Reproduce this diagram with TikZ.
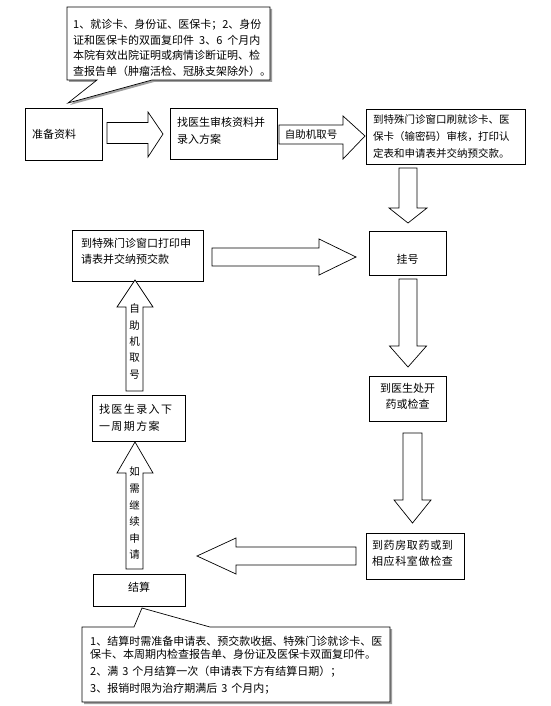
\documentclass[tikz,border=0pt]{standalone}
\usepackage{fontspec}
\newfontfamily\cjk{Noto Sans CJK SC}
\begin{document}
\begin{tikzpicture}[x=1pt,y=-1pt,
  box/.style={draw,line width=0.7pt,fill=white,inner sep=0pt,font=\cjk\fontsize{11}{16.5}\selectfont},
  barrow/.style={draw,line width=0.7pt,fill=white,line join=miter},
  lbl/.style={inner sep=0pt,font=\cjk\fontsize{10.5}{16.3}\selectfont},
  calloutshape/.style={draw,line width=0.7pt,fill=white,line join=miter},
  shadowshape/.style={fill=gray!75,draw=none},
  callouttext/.style={inner sep=0pt,align=left,font=\cjk\fontsize{11}{15.6}\selectfont}]
\useasboundingbox[fill=white] (0,0) rectangle (550,706);

% ---------- callout 1 ----------
\begin{scope}[shift={(2,2)}]
  \fill[shadowshape] (67,7) -- (270,7) -- (270,80) -- (152,80) -- (68,103) -- (97,80) -- (67,80) -- cycle;
\end{scope}
\draw[calloutshape] (67,7) -- (270,7) -- (270,80) -- (152,80) -- (68,103) -- (97,80) -- (67,80) -- cycle;
\node[callouttext,anchor=north west] (c1) at (73,19) {1、就诊卡、身份证、医保卡；2、身份\\证和医保卡的双面复印件\hspace{5pt}3、6\hspace{5pt}个月内\\本院有效出院证明或病情诊断证明、检\\查报告单（肿瘤活检、冠脉支架除外）。};

% ---------- callout 2 ----------
\begin{scope}[shift={(2,2)}]
  \fill[shadowshape] (82,627) -- (134,627) -- (142,608) -- (210,627) -- (390,627) -- (390,702) -- (82,702) -- cycle;
\end{scope}
\draw[calloutshape] (82,627) -- (134,627) -- (142,608) -- (210,627) -- (390,627) -- (390,702) -- (82,702) -- cycle;
\node[callouttext,anchor=north west,font=\cjk\fontsize{11}{16.9}\selectfont] (c2) at (90,636) {1、结算时需准备申请表、预交款收据、特殊门诊就诊卡、医\\[-3.5pt]保卡、本周期内检查报告单、身份证及医保卡双面复印件。\\2、满\hspace{4pt}3\hspace{4pt}个月结算一次（申请表下方有结算日期）；\\3、报销时限为治疗期满后\hspace{4pt}3\hspace{4pt}个月内；};

% ---------- boxes ----------
\node[box,minimum width=77pt,minimum height=52pt,text width=63pt,align=left] (prep) at (63.5,134) {准备资料};
\node[box,minimum width=107pt,minimum height=51pt,text width=93pt,align=left] (doc1) at (223.5,133.5) {找医生审核资料并\\录入方案\rule[-6pt]{0pt}{1pt}};
\node[box,minimum width=159pt,minimum height=55pt,text width=145pt,align=left,font=\cjk\fontsize{10.5}{17}\selectfont] (win1) at (445.5,136.5) {到特殊门诊窗口刷就诊卡、医\\保卡（输密码）审核，打印认\\定表和申请表并交纳预交款。};
\node[box,minimum width=77pt,minimum height=44pt,align=center] (reg) at (407.5,253) {\rule{0pt}{21pt}挂号};
\node[box,minimum width=131pt,minimum height=51pt,text width=113pt,align=left] (win2) at (137.5,255.5) {到特殊门诊窗口打印申\\请表并交纳预交款\rule[-9pt]{0pt}{1pt}};
\node[box,minimum width=77pt,minimum height=45pt,align=center] (doc2) at (407.5,398.5) {到医生处开\\药或检查\rule[-5pt]{0pt}{1pt}};
\node[box,minimum width=93pt,minimum height=46pt,text width=79pt,align=left] (doc3) at (138.5,418) {\addfontfeature{LetterSpace=13}找医生录入下\\\addfontfeature{LetterSpace=13}一周期方案};
\node[box,minimum width=98pt,minimum height=46pt,text width=86pt,align=left] (pharm) at (415,556) {\addfontfeature{LetterSpace=6}到药房取药或到\\\addfontfeature{LetterSpace=6}相应科室做检查\rule[-6pt]{0pt}{1pt}};
\node[box,minimum width=92pt,minimum height=32pt,align=center] (settle) at (139,590) {结算\rule[-6pt]{0pt}{1pt}};

% ---------- block arrows ----------
% prep -> doc1
\draw[barrow] (107,122.5) -- (148,122.5) -- (148,112) -- (163,134) -- (148,157) -- (148,143.5) -- (107,143.5) -- cycle;
% doc1 -> win1 (labelled)
\draw[barrow] (279,125) -- (343,125) -- (343,116) -- (365,136) -- (343,159) -- (343,144) -- (279,144) -- cycle;
\node[lbl] (l1) at (311,135) {自助机取号};
% win1 -> reg
\draw[barrow] (399,168) -- (417,168) -- (417,208) -- (427,208) -- (408,223) -- (389,208) -- (399,208) -- cycle;
% win2 -> reg
\draw[barrow] (212,248) -- (319,248) -- (319,239) -- (356,257) -- (319,275) -- (319,266) -- (212,266) -- cycle;
% reg -> doc2
\draw[barrow] (399,279) -- (417,279) -- (417,346) -- (426.5,346) -- (408,367) -- (389.5,346) -- (399,346) -- cycle;
% doc3 -> win2 (labelled, up)
\draw[barrow] (126,391) -- (126,307) -- (117,307) -- (135,280) -- (153,307) -- (143,307) -- (143,391) -- cycle;
\node[lbl,align=center] (l2) at (134.5,341.5) {自\\助\\机\\取\\号};
% doc2 -> pharm
\draw[barrow] (403,433) -- (422,433) -- (422,500) -- (431,500) -- (412.5,523) -- (394,500) -- (403,500) -- cycle;
% pharm -> settle (left)
\draw[barrow] (356,547) -- (236,547) -- (236,538) -- (197,556) -- (236,574) -- (236,565) -- (356,565) -- cycle;
% settle -> doc3 (labelled, up)
\draw[barrow] (126,569) -- (126,473) -- (117,473) -- (135,442) -- (153,473) -- (143,473) -- (143,569) -- cycle;
\node[lbl,align=center,font=\cjk\fontsize{10.5}{16.6}\selectfont] (l3) at (134.5,513.5) {如\\需\\继\\续\\申\\请};
\end{tikzpicture}
\end{document}
